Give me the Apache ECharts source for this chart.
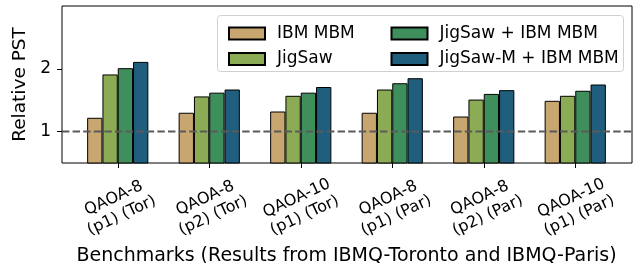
<!DOCTYPE html>
<html>
<head>
<meta charset="utf-8">
<script src="https://cdn.jsdelivr.net/npm/echarts@6/dist/echarts.min.js"></script>
<style>
  html, body { margin: 0; padding: 0; background: #fff; }
  #chart { width: 644px; height: 263px; }
</style>
</head>
<body>
<div id="chart"></div>
<script>
// benchmarks (two-line tick labels)
const categories = [
  'QAOA-8\n(p1) (Tor)',
  'QAOA-8\n(p2) (Tor)',
  'QAOA-10\n(p1) (Tor)',
  'QAOA-8\n(p1) (Par)',
  'QAOA-8\n(p2) (Par)',
  'QAOA-10\n(p1) (Par)',
]
const ibmMbm = [1.22, 1.30, 1.32, 1.30, 1.24, 1.49]
const jigsaw = [1.91, 1.56, 1.57, 1.67, 1.51, 1.57]
const jigsawIbm = [2.01, 1.62, 1.62, 1.77, 1.60, 1.65]
const jigsawMIbm = [2.11, 1.67, 1.71, 1.85, 1.66, 1.75]
const yTicks = [1, 2]
const baseline = 1

const font = 'DejaVu Sans'
const colors = ['#c8a66f', '#8cab55', '#3e8f5c', '#1f5e7d']
const names = ['IBM MBM', 'JigSaw', 'JigSaw + IBM MBM', 'JigSaw-M + IBM MBM']
const seriesData = [ibmMbm, jigsaw, jigsawIbm, jigsawMIbm]

const chart = echarts.init(document.getElementById('chart'))

const barSeries = seriesData.map((d, i) => ({
  name: names[i],
  type: 'bar',
  xAxisIndex: 1,
  yAxisIndex: 1,
  data: d,
  barWidth: 15.3,
  barGap: '0%',
  itemStyle: {
    color: colors[i],
    borderColor: '#000',
    borderWidth: 1,
  },
  z: 2,
}))

const legendText = { fontFamily: font, fontSize: 17, color: '#000', padding: [0, 0, 0, 7], lineHeight: 17 }

chart.setOption({
  animation: false,
  textStyle: { fontFamily: font },
  grid: [
    // frame
    { left: 62, right: 12, top: 6, bottom: 100, outerBoundsMode: 'none', show: true, borderColor: '#000', borderWidth: 1, backgroundColor: 'transparent' },
    // bars (matplotlib margins)
    { left: 72, right: 23, top: 6, bottom: 100, outerBoundsMode: 'none' },
  ],
  graphic: [
    {
      type: 'rect',
      shape: { x: 217.5, y: 15.5, width: 406, height: 56, r: 3 },
      style: { fill: 'rgba(255,255,255,0.8)', stroke: '#d0d0d0', lineWidth: 1 },
      z: 10,
    },
  ],
  legend: [
    {
      data: names.slice(0, 2),
      orient: 'vertical',
      left: 223,
      top: 20,
      itemWidth: 36,
      itemHeight: 12,
      itemGap: 8.5,
      icon: 'rect',
      textStyle: legendText,
      z: 20,
    },
    {
      data: names.slice(2),
      orient: 'vertical',
      left: 385.5,
      top: 20,
      itemWidth: 36,
      itemHeight: 12,
      itemGap: 8.5,
      icon: 'rect',
      textStyle: legendText,
      z: 20,
    },
  ],
  xAxis: [
    { type: 'value', gridIndex: 0, min: 0, max: 1, show: false },
    {
      type: 'category',
      gridIndex: 1,
      data: categories,
      axisLine: { show: false },
      axisTick: { show: true, alignWithLabel: true, length: 5, lineStyle: { color: '#000', width: 1 } },
      axisLabel: {
        rotate: 25,
        align: 'center',
        verticalAlign: 'middle',
        margin: 44,
        fontSize: 16,
        lineHeight: 19,
        color: '#000',
        fontFamily: font,
        interval: 0,
      },
      name: 'Benchmarks (Results from IBMQ-Toronto and IBMQ-Paris)',
      nameLocation: 'middle',
      nameGap: 72,
      nameTextStyle: { fontSize: 19, color: '#000', fontFamily: font },
    },
  ],
  yAxis: [
    {
      type: 'value',
      gridIndex: 0,
      min: 0.5,
      max: 3,
      axisLine: { show: false },
      axisTick: { show: true, length: 5, customValues: yTicks, lineStyle: { color: '#000', width: 1 } },
      axisLabel: { customValues: yTicks, fontSize: 17, color: '#000', margin: 11, fontFamily: font },
      splitLine: { show: false },
      name: 'Relative PST',
      nameLocation: 'middle',
      nameGap: 26,
      nameTextStyle: { fontSize: 18.5, color: '#000', fontFamily: font },
    },
    { type: 'value', gridIndex: 1, min: 0.5, max: 3, show: false },
  ],
  series: [
    ...barSeries,
    {
      name: 'baseline',
      type: 'line',
      xAxisIndex: 0,
      yAxisIndex: 0,
      data: [[0, baseline], [1, baseline]],
      symbol: 'none',
      lineStyle: { color: '#5a5a5a', width: 2, type: [7.4, 3.2] },
      z: 5,
      silent: true,
    },
  ],
})
</script>
</body>
</html>
